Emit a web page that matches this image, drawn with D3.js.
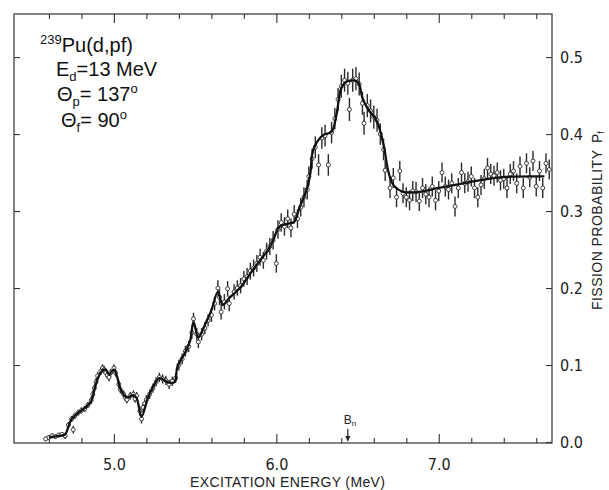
<!DOCTYPE html>
<html>
<head>
<meta charset="utf-8">
<script src="https://cdn.jsdelivr.net/npm/d3@7"></script>
<style>
  html, body { margin: 0; padding: 0; background: #fff; }
  svg { display: block; }
  .tick text { font-family: "Liberation Sans Narrow", "DejaVu Sans Condensed", "Liberation Sans", sans-serif; fill: #222; }
  .tick line { stroke: #333; stroke-width: 1.1; }
</style>
</head>
<body>
<svg id="chart" width="609" height="490"></svg>
<script>
// 239Pu(d,pf) fission probability vs excitation energy.
// Data; [energy MeV, P_f, error].

const energyMajor = [5.0, 6.0, 7.0];
const energyMinor = [4.6, 4.8, 5.2, 5.4, 5.6, 5.8, 6.2, 6.4, 6.6, 6.8, 7.2, 7.4, 7.6];
const probTicks = [0.0, 0.1, 0.2, 0.3, 0.4, 0.5];
const bnEnergy = 6.44;

const fissionPoints = [
  [4.58, 0.004, 0.003], [4.60, 0.006, 0.003], [4.62, 0.008, 0.003], [4.64, 0.007, 0.003],
  [4.66, 0.009, 0.003], [4.68, 0.010, 0.003], [4.70, 0.008, 0.004], [4.72, 0.022, 0.004],
  [4.74, 0.030, 0.004], [4.75, 0.016, 0.005], [4.76, 0.034, 0.004], [4.78, 0.038, 0.004],
  [4.80, 0.041, 0.004], [4.82, 0.043, 0.004], [4.84, 0.048, 0.004], [4.86, 0.054, 0.005],
  [4.87, 0.062, 0.005], [4.88, 0.070, 0.005], [4.89, 0.078, 0.005], [4.90, 0.086, 0.005],
  [4.92, 0.092, 0.005], [4.93, 0.096, 0.005], [4.94, 0.094, 0.005], [4.95, 0.090, 0.005],
  [4.96, 0.087, 0.005], [4.97, 0.084, 0.005], [4.98, 0.090, 0.005], [5.00, 0.096, 0.005],
  [5.01, 0.090, 0.005], [5.03, 0.075, 0.005], [5.04, 0.068, 0.005], [5.06, 0.062, 0.005],
  [5.07, 0.058, 0.005], [5.08, 0.055, 0.005], [5.10, 0.060, 0.005], [5.12, 0.062, 0.005],
  [5.13, 0.056, 0.005], [5.14, 0.060, 0.005], [5.16, 0.040, 0.006], [5.17, 0.030, 0.006],
  [5.18, 0.045, 0.006], [5.19, 0.050, 0.006], [5.20, 0.055, 0.006], [5.22, 0.062, 0.006],
  [5.24, 0.070, 0.006], [5.26, 0.078, 0.006], [5.28, 0.084, 0.006], [5.30, 0.082, 0.006],
  [5.32, 0.080, 0.006], [5.34, 0.075, 0.006], [5.36, 0.079, 0.006], [5.38, 0.083, 0.006],
  [5.40, 0.100, 0.007], [5.42, 0.108, 0.007], [5.44, 0.118, 0.007], [5.46, 0.124, 0.007],
  [5.48, 0.142, 0.008], [5.49, 0.160, 0.008], [5.51, 0.140, 0.008], [5.52, 0.130, 0.008],
  [5.54, 0.140, 0.008], [5.56, 0.148, 0.008], [5.58, 0.158, 0.008], [5.60, 0.165, 0.009],
  [5.62, 0.180, 0.009], [5.64, 0.200, 0.010], [5.65, 0.188, 0.010], [5.66, 0.169, 0.010],
  [5.68, 0.182, 0.010], [5.70, 0.199, 0.010], [5.71, 0.180, 0.010], [5.74, 0.195, 0.010],
  [5.76, 0.200, 0.010], [5.78, 0.203, 0.010], [5.80, 0.212, 0.010], [5.82, 0.215, 0.011],
  [5.84, 0.222, 0.011], [5.86, 0.226, 0.011], [5.88, 0.232, 0.011], [5.90, 0.240, 0.011],
  [5.92, 0.236, 0.011], [5.94, 0.248, 0.011], [5.96, 0.254, 0.011], [5.98, 0.262, 0.012],
  [6.00, 0.232, 0.012], [6.01, 0.276, 0.012], [6.03, 0.285, 0.012], [6.05, 0.280, 0.012],
  [6.07, 0.290, 0.012], [6.09, 0.278, 0.012], [6.11, 0.296, 0.012], [6.13, 0.290, 0.012],
  [6.15, 0.305, 0.012], [6.17, 0.318, 0.013], [6.19, 0.328, 0.013], [6.20, 0.345, 0.013],
  [6.22, 0.368, 0.013], [6.24, 0.383, 0.014], [6.26, 0.360, 0.014], [6.28, 0.395, 0.014],
  [6.30, 0.398, 0.014], [6.32, 0.360, 0.014], [6.34, 0.402, 0.014], [6.36, 0.420, 0.014],
  [6.38, 0.445, 0.015], [6.40, 0.462, 0.015], [6.42, 0.470, 0.015], [6.44, 0.466, 0.015],
  [6.45, 0.432, 0.015], [6.47, 0.470, 0.015], [6.49, 0.472, 0.015], [6.51, 0.465, 0.015],
  [6.53, 0.440, 0.015], [6.54, 0.414, 0.015], [6.56, 0.437, 0.015], [6.58, 0.430, 0.015],
  [6.60, 0.422, 0.015], [6.62, 0.418, 0.015], [6.64, 0.400, 0.014], [6.66, 0.380, 0.014],
  [6.67, 0.353, 0.014], [6.70, 0.330, 0.013], [6.72, 0.343, 0.013], [6.74, 0.318, 0.013],
  [6.76, 0.352, 0.013], [6.78, 0.323, 0.013], [6.80, 0.318, 0.013], [6.82, 0.314, 0.013],
  [6.84, 0.326, 0.013], [6.86, 0.325, 0.013], [6.88, 0.313, 0.013], [6.90, 0.330, 0.013],
  [6.92, 0.322, 0.013], [6.94, 0.318, 0.013], [6.96, 0.332, 0.013], [6.98, 0.314, 0.013],
  [7.00, 0.326, 0.013], [7.02, 0.350, 0.013], [7.04, 0.332, 0.013], [7.06, 0.328, 0.013],
  [7.08, 0.336, 0.013], [7.10, 0.306, 0.013], [7.12, 0.330, 0.013], [7.14, 0.350, 0.013],
  [7.16, 0.336, 0.013], [7.18, 0.338, 0.013], [7.20, 0.345, 0.013], [7.22, 0.330, 0.013],
  [7.24, 0.318, 0.013], [7.26, 0.334, 0.013], [7.28, 0.342, 0.013], [7.30, 0.356, 0.013],
  [7.32, 0.348, 0.013], [7.34, 0.346, 0.013], [7.36, 0.350, 0.013], [7.38, 0.340, 0.013],
  [7.40, 0.342, 0.013], [7.42, 0.330, 0.013], [7.44, 0.348, 0.013], [7.46, 0.352, 0.013],
  [7.48, 0.336, 0.013], [7.50, 0.358, 0.013], [7.52, 0.330, 0.013], [7.54, 0.362, 0.013],
  [7.56, 0.344, 0.013], [7.58, 0.365, 0.013], [7.60, 0.332, 0.013], [7.62, 0.352, 0.013],
  [7.64, 0.330, 0.013], [7.66, 0.362, 0.013], [7.68, 0.354, 0.013]
];

// smooth line drawn through the data in the original
const fitCurve = [
  [4.60, 0.006], [4.66, 0.008], [4.70, 0.010], [4.72, 0.020], [4.74, 0.030], [4.78, 0.038],
  [4.82, 0.044], [4.86, 0.053], [4.88, 0.068], [4.90, 0.082], [4.93, 0.093], [4.95, 0.094],
  [4.97, 0.088], [5.00, 0.094], [5.02, 0.085], [5.04, 0.069], [5.08, 0.058], [5.12, 0.061],
  [5.14, 0.057], [5.17, 0.033], [5.21, 0.058], [5.24, 0.071], [5.28, 0.083], [5.34, 0.077],
  [5.375, 0.078], [5.39, 0.097], [5.44, 0.117], [5.47, 0.132], [5.49, 0.156], [5.52, 0.136],
  [5.56, 0.152], [5.60, 0.171], [5.64, 0.195], [5.67, 0.178], [5.71, 0.187], [5.78, 0.201],
  [5.84, 0.219], [5.90, 0.236], [5.95, 0.250], [5.98, 0.262], [6.02, 0.280], [6.08, 0.284],
  [6.11, 0.286], [6.14, 0.303], [6.19, 0.330], [6.21, 0.350], [6.22, 0.373], [6.24, 0.386],
  [6.29, 0.399], [6.34, 0.403], [6.37, 0.425], [6.40, 0.460], [6.43, 0.468], [6.50, 0.468],
  [6.53, 0.447], [6.56, 0.434], [6.62, 0.416], [6.66, 0.386], [6.69, 0.351], [6.72, 0.334],
  [6.78, 0.325], [6.88, 0.325], [7.00, 0.330], [7.15, 0.336], [7.25, 0.340], [7.39, 0.344],
  [7.65, 0.345]
];

const svg = d3.select("#chart");

const x = d3.scaleLinear().domain([4.385, 7.697]).range([14, 552]);
const y = d3.scaleLinear().domain([0, 0.556]).range([442, 14]);

// frame
svg.append("rect")
  .attr("x", 14).attr("y", 14)
  .attr("width", 538).attr("height", 429)
  .attr("fill", "none").attr("stroke", "#333").attr("stroke-width", 1.2);

const fontSz = 16;

// bottom axis: minor + major (labelled) ticks, pointing inward
svg.append("g").attr("transform", "translate(0,443)")
  .call(d3.axisBottom(x).tickValues(energyMinor).tickSize(-5).tickFormat(""));
svg.append("g").attr("transform", "translate(0,443)")
  .call(d3.axisBottom(x).tickValues(energyMajor).tickSize(-9).tickPadding(16).tickFormat(d3.format(".1f")))
  .selectAll("text").style("font-size", fontSz + "px");

// top axis, ticks only
svg.append("g").attr("transform", "translate(0,14)")
  .call(d3.axisTop(x).tickValues(energyMinor).tickSize(-5).tickFormat(""));
svg.append("g").attr("transform", "translate(0,14)")
  .call(d3.axisTop(x).tickValues(energyMajor).tickSize(-9).tickFormat(""));

// right axis with labels
svg.append("g").attr("transform", "translate(552,0)")
  .call(d3.axisRight(y).tickValues(probTicks).tickSize(-6).tickPadding(8).tickFormat(d3.format(".1f")))
  .selectAll("text").style("font-size", fontSz + "px");

// left axis, ticks only
svg.append("g").attr("transform", "translate(14,0)")
  .call(d3.axisLeft(y).tickValues(probTicks.slice(1)).tickSize(-6).tickFormat(""));

svg.selectAll(".domain").remove();

// data points with error bars
const pts = svg.append("g").attr("class", "points");
pts.selectAll("line")
  .data(fissionPoints)
  .enter().append("line")
  .attr("x1", d => x(d[0])).attr("x2", d => x(d[0]))
  .attr("y1", d => y(d[1] - d[2])).attr("y2", d => y(d[1] + d[2]))
  .attr("stroke", "#2a2a2a").attr("stroke-width", 1.4);
pts.selectAll("circle")
  .data(fissionPoints)
  .enter().append("circle")
  .attr("cx", d => x(d[0])).attr("cy", d => y(d[1]))
  .attr("r", 2)
  .attr("fill", "#fff").attr("stroke", "#2a2a2a").attr("stroke-width", 0.9);

// fitted line
const line = d3.line()
  .x(d => x(d[0])).y(d => y(d[1]))
  .curve(d3.curveCatmullRom.alpha(0.5));
svg.append("path")
  .datum(fitCurve)
  .attr("d", line)
  .attr("fill", "none").attr("stroke", "#111").attr("stroke-width", 2.3)
  .attr("stroke-linejoin", "round");

// neutron binding energy marker
const bx = x(bnEnergy);
svg.append("line")
  .attr("x1", bx).attr("x2", bx).attr("y1", 429).attr("y2", 438)
  .attr("stroke", "#222").attr("stroke-width", 1.2);
svg.append("path")
  .attr("d", `M${bx - 2.5},436 L${bx + 2.5},436 L${bx},442 Z`)
  .attr("fill", "#222");
const bn = svg.append("text")
  .attr("x", bx - 4).attr("y", 424)
  .attr("font-family", "Liberation Sans Narrow, Liberation Sans, sans-serif")
  .attr("font-size", 12).attr("fill", "#222");
bn.append("tspan").text("B");
bn.append("tspan").attr("font-size", 8).attr("dy", 2).text("n");

// axis titles
svg.append("text")
  .attr("x", 190).attr("y", 487)
  .attr("textLength", 195).attr("lengthAdjust", "spacing")
  .attr("font-family", "Liberation Sans Narrow, Liberation Sans, sans-serif")
  .attr("font-size", 14).attr("fill", "#222")
  .text("EXCITATION  ENERGY  (MeV)");

const yt = svg.append("g").attr("transform", "translate(602,310) rotate(-90)");
yt.append("text")
  .attr("x", 0).attr("y", 0)
  .attr("textLength", 160).attr("lengthAdjust", "spacing")
  .attr("font-family", "Liberation Sans Narrow, Liberation Sans, sans-serif")
  .attr("font-size", 14).attr("fill", "#222")
  .text("FISSION  PROBABILITY");
const pf = yt.append("text")
  .attr("x", 167).attr("y", 0)
  .attr("font-family", "Liberation Sans Narrow, Liberation Sans, sans-serif")
  .attr("font-size", 14).attr("fill", "#222");
pf.append("tspan").text("P");
pf.append("tspan").attr("font-size", 9).attr("dy", 2).text("f");

// reaction annotation
const annFont = "Liberation Sans, Arial, sans-serif";
const a1 = svg.append("text").attr("x", 40).attr("y", 52)
  .attr("font-family", annFont).attr("font-size", 20).attr("fill", "#111");
a1.append("tspan").attr("font-size", 13).attr("dy", -8).text("239");
a1.append("tspan").attr("dy", 8).text("Pu(d,pf)");

const a2 = svg.append("text").attr("x", 56).attr("y", 76)
  .attr("font-family", annFont).attr("font-size", 20).attr("fill", "#111");
a2.append("tspan").text("E");
a2.append("tspan").attr("font-size", 13).attr("dy", 5).text("d");
a2.append("tspan").attr("dy", -5).text("=13 MeV");

const a3 = svg.append("text").attr("x", 57).attr("y", 101)
  .attr("font-family", annFont).attr("font-size", 20).attr("fill", "#111");
a3.append("tspan").text("\u0398");
a3.append("tspan").attr("font-size", 13).attr("dy", 5).text("p");
a3.append("tspan").attr("dy", -5).text("= 137");
a3.append("tspan").attr("font-size", 13).attr("dy", -8).text("o");

const a4 = svg.append("text").attr("x", 61).attr("y", 127)
  .attr("font-family", annFont).attr("font-size", 20).attr("fill", "#111");
a4.append("tspan").text("\u0398");
a4.append("tspan").attr("font-size", 13).attr("dy", 5).text("f");
a4.append("tspan").attr("dy", -5).text("= 90");
a4.append("tspan").attr("font-size", 13).attr("dy", -8).text("o");
</script>
</body>
</html>
